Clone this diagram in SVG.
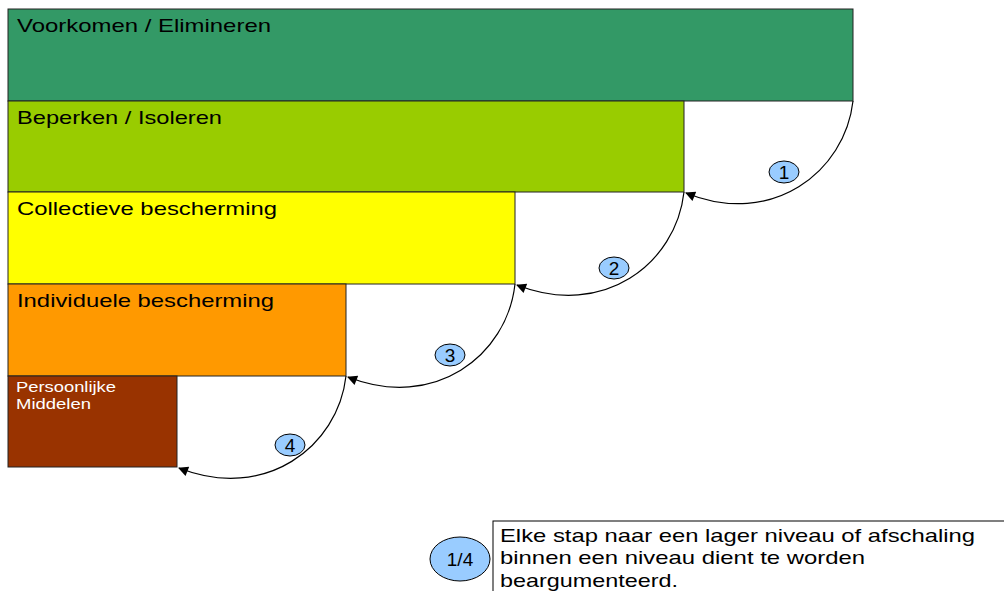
<svg xmlns="http://www.w3.org/2000/svg" width="1004" height="591" viewBox="0 0 1004 591">
<style>
.box{stroke:#222;stroke-width:1}
.lbl{font-family:"Liberation Sans",Arial,sans-serif;font-size:19px;fill:#000}
.arc{fill:none;stroke:#000;stroke-width:1.2;marker-end:url(#ah)}
.num{fill:#99ccff;stroke:#000;stroke-width:1}
.nt{font-family:"Liberation Sans",Arial,sans-serif;font-size:19px;fill:#000;text-anchor:middle}
.sm{font-family:"Liberation Sans",Arial,sans-serif;font-size:14px;fill:#fff}
</style>
<defs>
<marker id="ah" viewBox="0 0 10 10" refX="9" refY="5" markerWidth="14" markerHeight="10" markerUnits="userSpaceOnUse" orient="auto">
<path d="M0,0 L10,5 L0,10 z" fill="#000"/>
</marker>
</defs>
<rect width="1004" height="591" fill="#fff"/>
<g id="level1"><rect class="box" x="8" y="9" width="845" height="92" fill="#339966"/><text class="lbl" x="17" y="32" textLength="254" lengthAdjust="spacingAndGlyphs">Voorkomen / Elimineren</text></g>
<g id="level2"><rect class="box" x="8" y="101" width="676" height="91" fill="#99cc00"/><text class="lbl" x="17" y="124" textLength="205" lengthAdjust="spacingAndGlyphs">Beperken / Isoleren</text></g>
<g id="level3"><rect class="box" x="8" y="192" width="507" height="92" fill="#ffff00"/><text class="lbl" x="17" y="215" textLength="260" lengthAdjust="spacingAndGlyphs">Collectieve bescherming</text></g>
<g id="level4"><rect class="box" x="8" y="284" width="338" height="92" fill="#ff9900"/><text class="lbl" x="17" y="307" textLength="257" lengthAdjust="spacingAndGlyphs">Individuele bescherming</text></g>
<g id="level5"><rect class="box" x="8" y="376" width="169" height="91" fill="#993300"/><text class="sm" x="16" y="392" textLength="100" lengthAdjust="spacingAndGlyphs">Persoonlijke</text><text class="sm" x="16" y="409" textLength="75" lengthAdjust="spacingAndGlyphs">Middelen</text></g>
<g id="connectors">
<path class="arc" d="M853,101 C845,172 772,228 686,193"/>
<path class="arc" d="M684,192 C676,264 603,319 517,285"/>
<path class="arc" d="M515,284 C507,356 434,411 348,377"/>
<path class="arc" d="M346,376 C338,447 265,502 179,468"/>
</g>
<g id="step1"><ellipse class="num" cx="784" cy="172" rx="15" ry="11"/><text class="nt" x="784" y="179">1</text></g>
<g id="step2"><ellipse class="num" cx="614" cy="268" rx="15" ry="11"/><text class="nt" x="614" y="275">2</text></g>
<g id="step3"><ellipse class="num" cx="450" cy="355" rx="15" ry="11"/><text class="nt" x="450" y="362">3</text></g>
<g id="step4"><ellipse class="num" cx="290" cy="445" rx="15" ry="11"/><text class="nt" x="290" y="452">4</text></g>
<g id="legend">
<ellipse class="num" cx="460" cy="559" rx="30" ry="22"/><text class="nt" x="460" y="566">1/4</text>
<rect x="493" y="521" width="520" height="80" fill="#fff" stroke="#000" stroke-width="1"/>
<text class="lbl" x="500" y="542" textLength="475" lengthAdjust="spacingAndGlyphs">Elke stap naar een lager niveau of afschaling</text>
<text class="lbl" x="500" y="564" textLength="365" lengthAdjust="spacingAndGlyphs">binnen een niveau dient te worden</text>
<text class="lbl" x="500" y="587" textLength="178" lengthAdjust="spacingAndGlyphs">beargumenteerd.</text>
</g>
</svg>
